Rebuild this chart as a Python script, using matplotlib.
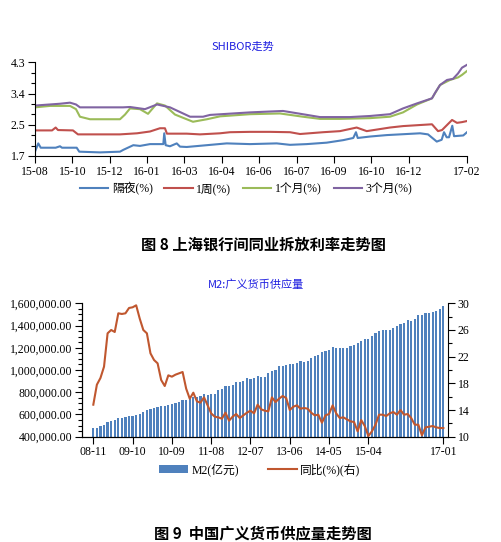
import numpy as np
import matplotlib
matplotlib.use('Agg')
import matplotlib.pyplot as plt
from matplotlib.ticker import FuncFormatter, MultipleLocator

plt.rcParams['font.family'] = ['Liberation Serif', 'Noto Sans CJK SC', 'DejaVu Sans']
plt.rcParams['axes.unicode_minus'] = False

# ---- SHIBOR data (trading-day index, value %) ----
on_days = [0, 2.8, 4.9, 17.7, 21.4, 23.1, 35.7, 37.9, 55.7, 72.8, 75.6, 84.2, 89.9, 98.5,
           109.9, 110.7, 111.9, 115.6, 121.4, 124.2, 129.9, 147.1, 164.2, 184.1, 207, 218.4,
           232.7, 249.8, 264, 272.6, 274.9, 276.4, 286.9, 301.2, 329.8, 336.6, 344.1, 348.3,
           350.3, 352.6, 354.6, 357.4, 358.9, 366.8, 370]
on_vals = [1.82, 2.05, 1.93, 1.93, 1.97, 1.93, 1.93, 1.82, 1.80, 1.82, 1.87, 2.00, 1.98, 2.03,
           2.03, 2.33, 2.00, 1.97, 2.05, 1.96, 1.95, 2.00, 2.05, 2.03, 2.05, 2.01,
           2.03, 2.07, 2.14, 2.20, 2.36, 2.20, 2.24, 2.28, 2.33, 2.30, 2.10, 2.15,
           2.36, 2.22, 2.22, 2.54, 2.25, 2.27, 2.36]

w1_days = [0, 14.6, 17.7, 19.7, 32.5, 36.8, 72.8, 87.4, 98.5, 107, 111.3, 113, 129.9, 141.3,
           158.4, 167, 184.1, 201.3, 218.4, 227, 246.7, 261.2, 275.5, 284.1, 304, 315.2, 340,
           345.2, 348.6, 357.2, 361.4, 365.7, 370]
w1_vals = [2.41, 2.41, 2.49, 2.42, 2.41, 2.30, 2.30, 2.33, 2.38, 2.47, 2.47, 2.32, 2.32, 2.30,
           2.33, 2.36, 2.37, 2.37, 2.36, 2.31, 2.36, 2.39, 2.49, 2.39, 2.49, 2.53, 2.58,
           2.39, 2.42, 2.70, 2.62, 2.64, 2.67]

m1_days = [0, 12.8, 30, 35.1, 38.5, 47.1, 72.8, 77.1, 81.4, 89.9, 96.8, 104.5, 111.3, 119.9,
           135.3, 147.3, 158.4, 184.1, 209.8, 229.5, 244.1, 261.2, 286.9, 304, 315.2, 327.2,
           340, 346.9, 355.4, 362.3, 365.7, 370]
m1_vals = [3.05, 3.09, 3.09, 3.00, 2.79, 2.72, 2.72, 2.85, 3.02, 3.00, 2.87, 3.16, 3.10, 2.85,
           2.65, 2.72, 2.80, 2.86, 2.88, 2.79, 2.73, 2.73, 2.75, 2.79, 2.91, 3.13,
           3.30, 3.67, 3.81, 3.88, 3.95, 4.06]

m3_days = [0, 21.4, 30, 35.1, 38.5, 75.4, 81.4, 94.2, 104.5, 115.6, 132.8, 143.9, 149.9, 184.1,
           212.4, 233, 244.1, 269.8, 286.9, 304, 315.2, 327.2, 340, 342.6, 346.9, 352.9, 358,
           362.3, 365.7, 370]
m3_vals = [3.10, 3.15, 3.18, 3.13, 3.05, 3.05, 3.06, 3.00, 3.13, 3.05, 2.79, 2.79, 2.84, 2.91,
           2.95, 2.84, 2.78, 2.78, 2.81, 2.86, 3.02, 3.16, 3.30, 3.45, 3.67, 3.81, 3.84,
           3.99, 4.15, 4.23]

shibor_tick_pos = [0, 32, 64, 96, 128, 160, 192, 224, 256, 288, 320, 370]
shibor_tick_lab = ['15-08', '15-10', '15-12', '16-01', '16-03', '16-04', '16-06', '16-07',
                   '16-09', '16-10', '16-12', '17-02']

# ---- M2 data, monthly 2008-11 .. 2017-01 ----
m2 = [474905, 475167, 496135, 506708, 530627, 540481, 548264, 568916, 571020, 576700,
      585405, 586643, 594604, 606225, 625609, 636072, 649947, 656150, 663351, 673921,
      674051, 687506, 696471, 699776, 710339, 725852, 733884, 736131, 758131, 757385,
      763410, 780821, 772923, 780853, 787406, 816829, 825494, 851591, 855898, 867171,
      895566, 889605, 900049, 924991, 918000, 924000, 943700, 936400, 940000, 974149,
      992129, 998600, 1035858, 1032552, 1042169, 1054403, 1052212, 1061256, 1077379, 1070241,
      1079257, 1106525, 1123521, 1131760, 1160687, 1168812, 1182300, 1209587, 1194249, 1197499,
      1202051, 1199236, 1211800, 1228375, 1242710, 1259600, 1275332, 1280000, 1308686, 1333375,
      1353211, 1356900, 1359824, 1361000, 1374954, 1392278, 1416300, 1424200, 1446200, 1444200,
      1461700, 1490500, 1491600, 1510000, 1516400, 1519500, 1530400, 1550100, 1575900]
m2_yoy = [14.8, 17.8, 18.8, 20.5, 25.5, 26.0, 25.7, 28.5, 28.4, 28.5,
          29.3, 29.4, 29.7, 27.7, 26.0, 25.5, 22.5, 21.5, 21.0, 18.5,
          17.6, 19.2, 19.0, 19.3, 19.5, 19.7, 17.2, 15.7, 16.6, 15.3,
          15.1, 15.9, 14.7, 13.5, 13.0, 12.9, 12.7, 13.6, 12.4, 13.0,
          13.4, 12.8, 13.2, 13.6, 13.9, 13.5, 14.8, 14.1, 13.9, 13.8,
          15.9, 15.2, 15.7, 16.1, 15.8, 14.0, 14.5, 14.7, 14.2, 14.3,
          14.2, 13.6, 13.2, 13.3, 12.1, 13.2, 13.4, 14.7, 13.5, 12.8,
          12.9, 12.6, 12.3, 12.2, 10.8, 12.5, 11.6, 10.1, 10.8, 11.8,
          13.3, 13.3, 13.1, 13.5, 13.7, 13.3, 14.0, 13.3, 13.4, 12.8,
          11.8, 11.8, 10.2, 11.4, 11.5, 11.6, 11.4, 11.3, 11.3]
m2_tick_pos = [0, 11, 22, 33, 44, 55, 66, 77, 98]
m2_tick_lab = ['08-11', '09-10', '10-09', '11-08', '12-07', '13-06', '14-05', '15-04', '17-01']
yoy_ticks = [10, 14, 18, 22, 26, 30]

BLUE = '#4F81BD'
RED = '#C0504D'
GREEN = '#9BBB59'
PURPLE = '#8064A2'
LINE2 = '#C0572F'
TITLE_C = '#1F1FE0'
FS = 8.5

fig = plt.figure(figsize=(5.01, 5.42), dpi=100)

# ---------- chart 1 ----------
ax1 = fig.add_axes([35/501, 1-156/542, 432/501, 93.7/542])
ax1.plot(on_days, on_vals, color=BLUE, lw=1.5, label='隔夜(%)')
ax1.plot(w1_days, w1_vals, color=RED, lw=1.5, label='1周(%)')
ax1.plot(m1_days, m1_vals, color=GREEN, lw=1.5, label='1个月(%)')
ax1.plot(m3_days, m3_vals, color=PURPLE, lw=1.5, label='3个月(%)')
ax1.set_xlim(0, 370)
ax1.set_ylim(1.7, 4.3)
ax1.set_yticks(np.linspace(1.7, 4.3, 4))
ax1.set_yticklabels(['1.7', '2.5', '3.4', '4.3'])
ax1.set_yticks(np.linspace(1.7, 4.3, 10), minor=True)
ax1.set_xticks(shibor_tick_pos)
ax1.set_xticklabels(shibor_tick_lab)
for s in ['top', 'right']:
    ax1.spines[s].set_visible(False)
ax1.tick_params(labelsize=FS, length=5, width=0.8, pad=2)
ax1.tick_params(which='minor', length=3, width=0.8)
fig.text(243/501, 1-47/542, 'SHIBOR走势', color=TITLE_C, fontsize=8,
         ha='center', va='center', family=['Noto Sans CJK SC', 'DejaVu Sans'])
fig.legend(handles=ax1.get_lines(), loc='center', bbox_to_anchor=(246/501, 1-189/542),
           ncol=4, frameon=False, fontsize=FS, handlelength=2.4, handletextpad=0.3,
           columnspacing=1.0)

# ---------- chart 2 ----------
ax2 = fig.add_axes([81.7/501, 1-436.7/542, 366.3/501, 133.4/542])
idx = np.arange(len(m2))
bars = ax2.bar(idx, m2, width=0.62, color=BLUE, label='M2(亿元)')
ax2.set_xlim(-3.25, 99.3)
ax2.set_ylim(400000, 1600000)
ax2.yaxis.set_major_locator(MultipleLocator(200000))
ax2.yaxis.set_minor_locator(MultipleLocator(50000))
ax2.yaxis.set_major_formatter(FuncFormatter(lambda v, p: '{:,.2f}'.format(v)))
ax2.set_xticks(m2_tick_pos)
ax2.set_xticklabels(m2_tick_lab)
ax2.spines['top'].set_visible(False)
ax2.spines['right'].set_visible(False)
ax2.tick_params(labelsize=FS, length=5, width=0.8, pad=2)
ax2.tick_params(which='minor', length=3, width=0.8)

ax3 = ax2.twinx()
line, = ax3.plot(idx, m2_yoy, color=LINE2, lw=1.5, label='同比(%)(右)')
ax3.set_ylim(10, 30)
ax3.set_yticks(yoy_ticks)
ax3.yaxis.set_minor_locator(MultipleLocator(2))
ax3.spines['top'].set_visible(False)
ax3.tick_params(labelsize=FS, length=5, width=0.8, pad=2)
ax3.tick_params(which='minor', length=3, width=0.8)
fig.text(256/501, 1-285/542, 'M2:广义货币供应量', color=TITLE_C, fontsize=8,
         ha='center', va='center', family=['Noto Sans CJK SC', 'DejaVu Sans'])
fig.legend(handles=[bars, line], loc='center', bbox_to_anchor=(260/501, 1-470/542),
           ncol=2, frameon=False, fontsize=FS, handlelength=2.4, handletextpad=0.3,
           columnspacing=2.5)

# captions
fig.text(263/501, 1-245/542, '图 8 上海银行间同业拆放利率走势图', fontsize=11,
         fontweight='bold', ha='center', va='center',
         family=['Noto Sans CJK SC', 'DejaVu Sans'])
fig.text(263/501, 1-533/542, '图 9  中国广义货币供应量走势图', fontsize=11,
         fontweight='bold', ha='center', va='center',
         family=['Noto Sans CJK SC', 'DejaVu Sans'])

fig.savefig('out.png', dpi=100)
